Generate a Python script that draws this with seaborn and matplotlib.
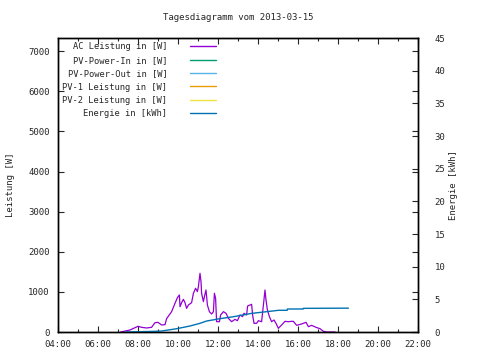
import pandas as pd
import matplotlib
matplotlib.use("Agg")
import matplotlib.pyplot as plt
import seaborn as sns
from matplotlib.lines import Line2D

# AC power in W (time in hours)
ac_time = [7.13, 7.6, 8.0, 8.18, 8.43, 8.68, 8.85, 9.0, 9.18, 9.35, 9.43, 9.68, 9.85, 9.97,
           10.07, 10.1, 10.18, 10.27, 10.35, 10.43, 10.52, 10.68, 10.77, 10.88, 10.97, 11.02,
           11.1, 11.15, 11.18, 11.27, 11.32, 11.4, 11.47, 11.57, 11.68, 11.77, 11.82, 11.88,
           11.93, 12.07, 12.13, 12.27, 12.4, 12.52, 12.68, 12.85, 12.97, 13.1, 13.23, 13.3,
           13.43, 13.48, 13.6, 13.68, 13.73, 13.8, 13.93, 14.02, 14.18, 14.27, 14.35, 14.4,
           14.47, 14.57, 14.68, 14.8, 14.9, 15.02, 15.18, 15.35, 15.52, 15.68, 15.77, 15.93,
           16.18, 16.4, 16.52, 16.68, 16.9, 17.1, 17.27, 17.43, 17.85]
ac_power = [0, 50, 142, 117, 100, 117, 232, 241, 175, 183, 332, 507, 715, 856,
            923, 631, 731, 815, 731, 590, 673, 731, 965, 1090, 1007, 1130,
            1463, 1255, 965, 757, 880, 1047, 673, 507, 449, 507, 965, 840,
            257, 257, 424, 507, 466, 341, 257, 316, 282, 424, 383, 466,
            424, 648, 673, 690, 424, 216, 216, 282, 257, 673, 1047, 798,
            549, 383, 257, 299, 216, 91, 175, 266, 257, 266, 266, 166,
            200, 241, 133, 166, 117, 83, 17, 0, 0]

# Energy in kWh
en_time = [7.4, 8.85, 9.18, 9.93, 10.6, 11.1, 11.43, 12.1, 12.77, 13.68, 14.43, 15.02,
           15.46, 15.47, 16.26, 16.27, 18.52]
en_kwh = [0.0, 0.1, 0.15, 0.5, 0.92, 1.33, 1.68, 2.04, 2.34, 2.85, 3.11, 3.32,
          3.32, 3.52, 3.52, 3.62, 3.65]

labels = ["AC Leistung in [W]", "PV-Power-In in [W]", "PV-Power-Out in [W]",
          "PV-1 Leistung in [W]", "PV-2 Leistung in [W]", "Energie in [kWh]"]
colors = ["#9400D3", "#009E73", "#56B4E9", "#E69F00", "#F0E442", "#0072B2"]

hour_ticks = list(range(4, 23, 2))
hour_labels = ["%02d:00" % h for h in hour_ticks]

ac_df = pd.DataFrame({"t": ac_time, "w": ac_power})
en_df = pd.DataFrame({"t": en_time, "kwh": en_kwh})

sns.set_style("ticks")
plt.rcParams["font.family"] = ["DejaVu Sans Mono", "DejaVu Sans"]
plt.rcParams["font.size"] = 6.3

fig = plt.figure(figsize=(4.8, 3.6), dpi=100)
ax = fig.add_axes([58 / 480, 1 - 332 / 360, 360 / 480, 294 / 360])
ax2 = ax.twinx()

sns.lineplot(data=ac_df, x="t", y="w", ax=ax, color=colors[0], linewidth=0.9)
sns.lineplot(data=en_df, x="t", y="kwh", ax=ax2, color=colors[5], linewidth=1.0)

ax.set_xlim(4, 22)
ax.set_ylim(0, 7330)
ax2.set_ylim(0, 45)
ax.set_xticks(hour_ticks)
ax.set_xticklabels(hour_labels)
ax.set_xticks(range(4, 23), minor=True)
ax.set_yticks(range(0, 7001, 1000))
ax2.set_yticks(range(0, 46, 5))

ax.tick_params(axis="both", which="both", direction="in", top=True, length=4, width=0.8,
               pad=6, labelsize=6.5)
ax.tick_params(axis="x", which="minor", length=2.5)
ax.tick_params(axis="y", right=True)
ax2.tick_params(axis="y", direction="in", length=4, width=0.8, pad=12, labelsize=6.5)
for a in (ax, ax2):
    for s in a.spines.values():
        s.set_color("black")
        s.set_linewidth(1.0)

ax.set_xlabel("")
ax.set_ylabel("Leistung [W]", fontsize=6.5)
ax2.set_ylabel("Energie [kWh]", fontsize=6.5)
ax.yaxis.set_label_coords(-0.12, 0.5)
ax2.yaxis.set_label_coords(1.085, 0.5)

fig.text(238 / 480, 1 - 18 / 360, "Tagesdiagramm vom 2013-03-15", ha="center", va="center",
         fontsize=6.5)

handles = [Line2D([], [], color=c, linewidth=1.0) for c in colors]
leg = ax.legend(handles, labels, loc="upper left", bbox_to_anchor=(0.0, 1.0),
                frameon=False, fontsize=6.3, markerfirst=False, handlelength=3.0,
                labelspacing=0.5, borderaxespad=0.1, handletextpad=2.6)
for t in leg.get_texts():
    t.set_ha("right")
leg._legend_box.align = "right"

fig.savefig("out.png", dpi=100)
